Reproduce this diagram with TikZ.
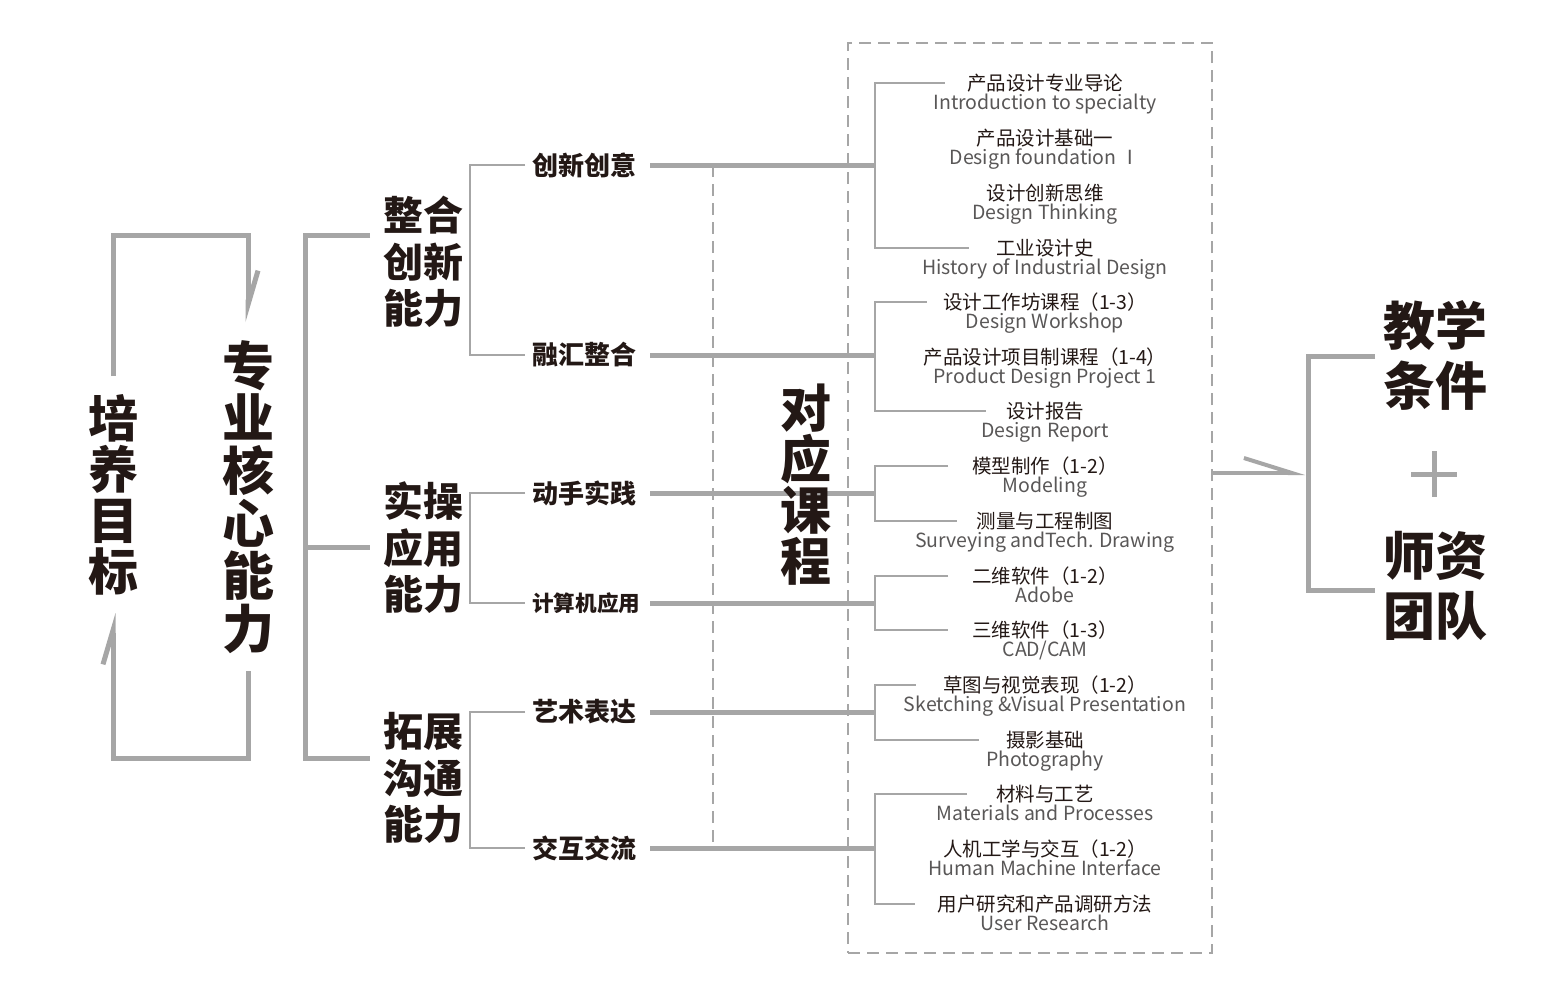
\documentclass[tikz,border=0pt]{standalone}
\usepackage{fontspec}
\newfontfamily\cjk{Noto Sans CJK SC}
\usetikzlibrary{arrows.meta}
\definecolor{ln}{HTML}{A6A6A6}
\definecolor{ink}{HTML}{231815}
\definecolor{engc}{HTML}{595757}
\definecolor{cnc}{HTML}{231815}
\tikzset{
  thickln/.style={draw=ln, line width=5pt},
  midln/.style={draw=ln, line width=5pt},
  thinln/.style={draw=ln, line width=2.5pt},
  dashln/.style={draw=ln, line width=1.6pt, dash pattern=on 12pt off 7pt},
  boxln/.style={draw=ln, line width=2pt, dash pattern=on 12pt off 7pt},
  vtext/.style={text=ink, inner sep=0pt, align=center},
  glabel/.style={text=ink, inner sep=0pt, align=center, font={\cjk\bfseries\fontsize{40}{46.5}\selectfont}},
  slabel/.style={text=ink, inner sep=0pt, anchor=west, font={\cjk\bfseries\fontsize{26}{26}\selectfont}},
  cn/.style={text=cnc, inner sep=0pt, font={\cjk\fontsize{19.5}{19.5}\selectfont}},
  en/.style={text=engc, inner sep=0pt, anchor=base, font={\cjk\fontsize{19.5}{19.5}\selectfont}},
}
\newcommand\mycourse[4]{%
  \node[cn] (#1c) at (1045,#2) {#3};
  \node[en] (#1e) at (1045,{#2+26}) {#4};}
\begin{document}
\begin{tikzpicture}[x=1pt,y=-1pt]
\useasboundingbox[fill=white] (0,0) rectangle (1564,983);

% ---- left vertical texts
\node[vtext, font={\cjk\bfseries\fontsize{50}{51}\selectfont}] (py) at (113,495) {培\\养\\目\\标};
\node[vtext, font={\cjk\bfseries\fontsize{52}{52.6}\selectfont}] (zy) at (248,497) {专\\业\\核\\心\\能\\力};

% ---- loop arrows
\coordinate (pyT) at (113,376);
\coordinate (lpTL) at (113,235);
\coordinate (lpTR) at (248,235);
\coordinate (zyT) at (248,322);
\coordinate (zyB) at (248,671);
\coordinate (lpBR) at (248,758);
\coordinate (lpBL) at (113,758);
\coordinate (pyB) at (113,613);
\draw[thickln, -{Straight Barb[left,length=34pt,width=20pt]}] (pyT) -- (lpTL) -- (lpTR) -- (zyT);
\draw[thickln, -{Straight Barb[left,length=34pt,width=20pt]}] (zyB) -- (lpBR) -- (lpBL) -- (pyB);

% ---- main bracket
\coordinate (m1) at (370,235);
\coordinate (m2) at (370,547);
\coordinate (m3) at (370,758);
\coordinate (mb1) at (305,235);
\coordinate (mb2) at (305,547);
\coordinate (mb3) at (305,758);
\draw[thickln] (m1) -- (mb1) -- (mb3) -- (m3);
\draw[thickln] (mb2) -- (m2);

% ---- group labels
\node[glabel] (g1) at (423,262) {整合\\创新\\能力};
\node[glabel] (g2) at (423,548) {实操\\应用\\能力};
\node[glabel] (g3) at (423,778) {拓展\\沟通\\能力};

% ---- sub labels
\node[slabel] (s1) at (532,165) {创新创意};
\node[slabel] (s2) at (532,355) {融汇整合};
\node[slabel] (s3) at (532,493) {动手实践};
\node[slabel, font={\cjk\bfseries\fontsize{21.6}{21.6}\selectfont}] (s4) at (532,603) {计算机应用};
\node[slabel] (s5) at (532,712) {艺术表达};
\node[slabel] (s6) at (532,848) {交互交流};

% ---- sub brackets
\draw[thinln] ([xshift=-7pt]s1.west) -- ++(-55,0) |- ([xshift=-7pt]s2.west);
\draw[thinln] ([xshift=-7pt]s3.west) -- ++(-55,0) |- ([xshift=-7pt]s4.west);
\draw[thinln] ([xshift=-7pt]s5.west) -- ++(-55,0) |- ([xshift=-7pt]s6.west);

% ---- junctions on course brackets
\coordinate (tx) at (650,0);
\coordinate (bA) at (875,165);
\coordinate (bB) at (875,355);
\coordinate (bC) at (875,493);
\coordinate (bD) at (875,603);
\coordinate (bE) at (875,712);
\coordinate (bF) at (875,848);

% ---- inner dashed line
\coordinate (dT) at (713,165);
\coordinate (dB) at (713,848);
\draw[dashln] (dT) -- (dB);

% ---- thick connectors
\draw[midln] (s1 -| tx) -- (bA);
\draw[midln] (s2 -| tx) -- (bB);
\draw[midln] (s3 -| tx) -- (bC);
\draw[midln] (s4 -| tx) -- (bD);
\draw[midln] (s5 -| tx) -- (bE);
\draw[midln] (s6 -| tx) -- (bF);

% ---- central vertical label
\node[vtext, font={\cjk\bfseries\fontsize{51}{51}\selectfont}] (dy) at (806,485) {对\\应\\课\\程};

% ---- dashed box
\node[boxln, minimum width=364pt, minimum height=910pt, inner sep=0pt] (box) at (1030,498) {};

% ---- courses
\mycourse{k1}{83}{产品设计专业导论}{Introduction to specialty}
\mycourse{k2}{138}{产品设计基础一}{Design foundation Ⅰ}
\mycourse{k3}{193}{设计创新思维}{Design Thinking}
\mycourse{k4}{248}{工业设计史}{History of Industrial Design}
\mycourse{k5}{302}{设计工作坊课程（1-3）}{Design Workshop}
\mycourse{k6}{357}{产品设计项目制课程（1-4）}{Product Design Project 1}
\mycourse{k7}{411}{设计报告}{Design Report}
\mycourse{k8}{466}{模型制作（1-2）}{Modeling}
\mycourse{k9}{521}{测量与工程制图}{Surveying andTech. Drawing}
\mycourse{k10}{576}{二维软件（1-2）}{Adobe}
\mycourse{k11}{630}{三维软件（1-3）}{CAD/CAM}
\mycourse{k12}{685}{草图与视觉表现（1-2）}{Sketching \&Visual Presentation}
\mycourse{k13}{740}{摄影基础}{Photography}
\mycourse{k14}{794}{材料与工艺}{Materials and Processes}
\mycourse{k15}{849}{人机工学与交互（1-2）}{Human Machine Interface}
\mycourse{k16}{904}{用户研究和产品调研方法}{User Research}

% ---- course brackets
\draw[thinln] ([xshift=-22pt]k1c.west) -| (bA) |- ([xshift=-27pt]k4c.west);
\draw[thinln] ([xshift=-16pt]k5c.west) -| (bB) |- ([xshift=-20pt]k7c.west);
\draw[thinln] ([xshift=-24pt]k8c.west) -| (bC) |- ([xshift=-20pt]k9c.west);
\draw[thinln] ([xshift=-24pt]k10c.west) -| (bD) |- ([xshift=-24pt]k11c.west);
\draw[thinln] ([xshift=-27pt]k12c.west) -| (bE) |- ([xshift=-27pt]k13c.west);
\draw[thinln] ([xshift=-29pt]k14c.west) -| (bF) |- ([xshift=-23pt]k16c.west);

% ---- right side
\coordinate (bxR) at (1212,473);
\coordinate (rbM) at (1305,473);
\coordinate (rb1) at (1308,356);
\coordinate (rb2) at (1308,590);
\coordinate (rT) at (1375,356);
\coordinate (rB) at (1375,590);
\draw[midln, line width=4pt, -{Straight Barb[left,length=48pt,width=30pt]}] (bxR) -- (rbM);
\draw[thickln] (rT) -- (rb1) -- (rb2) -- (rB);

\node[vtext, font={\cjk\bfseries\fontsize{52}{60}\selectfont}] (jx) at (1435,355) {教学\\条件};
\node[vtext, font={\cjk\bfseries\fontsize{52}{60}\selectfont}] (sz) at (1435,586) {师资\\团队};

\coordinate (pl) at (1411,474);
\coordinate (pr) at (1457,474);
\coordinate (pt) at (1434,451);
\coordinate (pb) at (1434,497);
\draw[thickln] (pl) -- (pr);
\draw[thickln] (pt) -- (pb);
\end{tikzpicture}
\end{document}
